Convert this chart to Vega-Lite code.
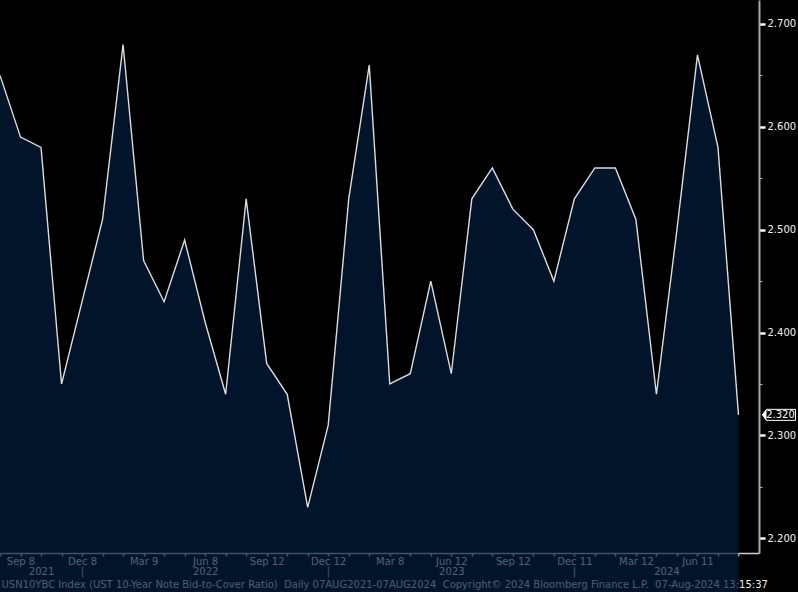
{
  "$schema": "https://vega.github.io/schema/vega-lite/v6.json",
  "width": 759,
  "height": 553,
  "autosize": "none",
  "padding": {"left": 0, "top": 0, "right": 39, "bottom": 39},
  "background": "#000000",
  "config": {"view": {"stroke": null}, "font": "DejaVu Sans"},
  "data": {"values": [
    {"date": "2021-08-11", "ratio": 2.65},
    {"date": "2021-09-08", "ratio": 2.59},
    {"date": "2021-10-13", "ratio": 2.58},
    {"date": "2021-11-10", "ratio": 2.35},
    {"date": "2021-12-08", "ratio": 2.43},
    {"date": "2022-01-12", "ratio": 2.51},
    {"date": "2022-02-09", "ratio": 2.68},
    {"date": "2022-03-09", "ratio": 2.47},
    {"date": "2022-04-12", "ratio": 2.43},
    {"date": "2022-05-11", "ratio": 2.49},
    {"date": "2022-06-08", "ratio": 2.41},
    {"date": "2022-07-12", "ratio": 2.34},
    {"date": "2022-08-10", "ratio": 2.53},
    {"date": "2022-09-12", "ratio": 2.37},
    {"date": "2022-10-12", "ratio": 2.34},
    {"date": "2022-11-09", "ratio": 2.23},
    {"date": "2022-12-12", "ratio": 2.31},
    {"date": "2023-01-11", "ratio": 2.53},
    {"date": "2023-02-08", "ratio": 2.66},
    {"date": "2023-03-08", "ratio": 2.35},
    {"date": "2023-04-12", "ratio": 2.36},
    {"date": "2023-05-10", "ratio": 2.45},
    {"date": "2023-06-12", "ratio": 2.36},
    {"date": "2023-07-12", "ratio": 2.53},
    {"date": "2023-08-09", "ratio": 2.56},
    {"date": "2023-09-12", "ratio": 2.52},
    {"date": "2023-10-11", "ratio": 2.50},
    {"date": "2023-11-08", "ratio": 2.45},
    {"date": "2023-12-11", "ratio": 2.53},
    {"date": "2024-01-10", "ratio": 2.56},
    {"date": "2024-02-07", "ratio": 2.56},
    {"date": "2024-03-12", "ratio": 2.51},
    {"date": "2024-04-10", "ratio": 2.34},
    {"date": "2024-05-08", "ratio": 2.50},
    {"date": "2024-06-11", "ratio": 2.67},
    {"date": "2024-07-10", "ratio": 2.58},
    {"date": "2024-08-07", "ratio": 2.32}
  ]},
  "resolve": {"axis": {"x": "independent"}},
  "layer": [
    {
      "mark": {"type": "area", "color": "#021c3a", "line": {"color": "#dcdcdc", "strokeWidth": 1.4}},
      "encoding": {
        "x": {
          "field": "date", "type": "ordinal",
          "scale": {"type": "point", "padding": 0.5, "align": 0},
          "axis": {
            "orient": "bottom", "title": null, "grid": false, "labelAngle": 0, "labelOverlap": false,
            "domainColor": "#cfcfcf", "domainWidth": 1.5,
            "tickColor": "#e8e8e8", "tickSize": 3, "tickWidth": 1.5,
            "labelColor": "#ffffff", "labelFont": "DejaVu Sans", "labelFontSize": 10, "labelPadding": 0,
            "labelExpr": "indexof(['2021-09-08','2021-12-08','2022-03-09','2022-06-08','2022-09-12','2022-12-12','2023-03-08','2023-06-12','2023-09-12','2023-12-11','2024-03-12','2024-06-11'], datum.value) >= 0 ? utcFormat(toDate(datum.value), '%b %-d') : ''"
          }
        },
        "y": {
          "field": "ratio", "type": "quantitative",
          "scale": {"domain": [2.1857, 2.7233], "zero": false, "nice": false},
          "axis": {
            "orient": "right", "title": null, "grid": false, "labelOverlap": false,
            "values": [2.2, 2.25, 2.3, 2.35, 2.4, 2.45, 2.5, 2.55, 2.6, 2.65, 2.7],
            "domainColor": "#a8a8a8", "domainWidth": 2,
            "tickColor": {"condition": {"test": "abs(datum.value*10 - round(datum.value*10)) < 0.01", "value": "#ffffff"}, "value": "#bbbbbb"},
            "tickSize": {"condition": {"test": "abs(datum.value*10 - round(datum.value*10)) < 0.01", "value": 6}, "value": 3},
            "tickWidth": {"condition": {"test": "abs(datum.value*10 - round(datum.value*10)) < 0.01", "value": 2.5}, "value": 1},
            "labelColor": "#f0f0f0", "labelFont": "DejaVu Sans", "labelFontSize": 10, "labelPadding": 2,
            "labelExpr": "abs(datum.value*10 - round(datum.value*10)) < 0.01 ? format(datum.value, '.3f') : ''"
          }
        }
      }
    },
    {
      "transform": [{"filter": "datum.date == '2024-08-07'"}],
      "mark": {"type": "point", "shape": "M 24 0 L 28 -5.5 L 57 -5.5 L 57 5.5 L 28 5.5 Z", "size": 4, "filled": true, "fill": "#000000", "stroke": "#ffffff", "strokeWidth": 1, "opacity": 1},
      "encoding": {
        "x": {
          "field": "date", "type": "ordinal",
          "scale": {"type": "point", "padding": 0.5, "align": 0},
          "axis": {
            "orient": "bottom", "offset": 13, "grid": false, "domain": false, "labelAngle": 0, "labelOverlap": false,
            "values": ["2021-10-13", "2021-12-08", "2022-06-08", "2022-12-12", "2023-06-12", "2023-12-11", "2024-04-10"],
            "tickSize": 11, "tickWidth": 1.5, "tickColor": "#9a9a9a",
            "tickOpacity": {"condition": {"test": "indexof(['2021-12-08','2022-12-12','2023-12-11'], datum.value) >= 0", "value": 1}, "value": 0},
            "labelPadding": -11, "labelColor": "#ffffff", "labelFont": "DejaVu Sans", "labelFontSize": 10,
            "labelOffset": {"condition": {"test": "datum.value == '2024-04-10'", "value": 10}, "value": 0},
            "labelExpr": "datum.value == '2021-10-13' ? '2021' : datum.value == '2022-06-08' ? '2022' : datum.value == '2023-06-12' ? '2023' : datum.value == '2024-04-10' ? '2024' : ''",
            "title": "USN10YBC Index (UST 10-Year Note Bid-to-Cover Ratio)\u00a0\u00a0Daily 07AUG2021-07AUG2024\u00a0\u00a0Copyright© 2024 Bloomberg Finance L.P.\u00a0\u00a007-Aug-2024 13:15:37",
            "titleX": 1, "titleY": 13, "titleAlign": "left", "titleAnchor": "start", "titleBaseline": "top",
            "titleColor": "#f0f0f0", "titleFont": "DejaVu Sans", "titleFontSize": 10, "titleFontWeight": "normal"
          }
        },
        "y": {"field": "ratio", "type": "quantitative"}
      }
    },
    {
      "transform": [{"filter": "datum.date == '2024-08-07'"}],
      "mark": {"type": "point", "shape": "M 23.5 0 L 28 -5.5 L 28 5.5 Z", "size": 4, "filled": true, "fill": "#ffffff", "strokeWidth": 0, "opacity": 1},
      "encoding": {
        "x": {"field": "date", "type": "ordinal", "axis": null},
        "y": {"field": "ratio", "type": "quantitative"}
      }
    },
    {
      "transform": [{"filter": "datum.date == '2024-08-07'"}],
      "mark": {"type": "text", "dx": 42, "align": "center", "baseline": "middle", "color": "#ffffff", "font": "DejaVu Sans", "fontSize": 10},
      "encoding": {
        "x": {"field": "date", "type": "ordinal", "axis": null},
        "y": {"field": "ratio", "type": "quantitative"},
        "text": {"field": "ratio", "type": "quantitative", "format": ".3f"}
      }
    }
  ]
}
